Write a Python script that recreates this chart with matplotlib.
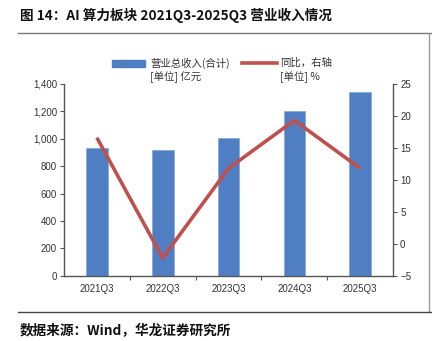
import matplotlib
matplotlib.use("Agg")
import matplotlib.pyplot as plt
from matplotlib.lines import Line2D
from matplotlib.patches import Rectangle
from matplotlib.ticker import FuncFormatter, FixedLocator
import numpy as np

plt.rcParams['font.family'] = ['Liberation Sans', 'Noto Sans CJK SC', 'DejaVu Sans']

quarters = ['2021Q3', '2022Q3', '2023Q3', '2024Q3', '2025Q3']
revenue = [930, 915, 1005, 1200, 1340]      # 亿元
yoy = [16.6, -2.2, 11.8, 19.3, 11.8]        # %

bar_color = '#4F7EC2'
line_color = '#C0504D'
axis_color = '#555555'
cjk = ['Noto Sans CJK SC', 'DejaVu Sans']

fig = plt.figure(figsize=(4.32, 3.41), dpi=100)
ax = fig.add_axes([0.148, 0.191, 0.762, 0.563])
ax2 = ax.twinx()

x = np.arange(len(quarters))
ax.bar(x, revenue, width=0.33, color=bar_color, edgecolor='#7FA6DA', linewidth=0.5, zorder=2)
ax2.plot(x, yoy, color=line_color, linewidth=2.6, solid_capstyle='butt', zorder=3)

ax.set_xlim(-0.5, len(quarters) - 0.5)
ax.set_ylim(0, 1400)
ax.set_yticks(np.arange(0, 1401, 200))
ax.yaxis.set_major_formatter(FuncFormatter(lambda v, p: f'{int(v):,}'))
ax2.set_ylim(-5, 25)
ax2.set_yticks(np.arange(-5, 26, 5))

ax.set_xticks(x)
ax.set_xticklabels(quarters)
ax.xaxis.set_minor_locator(FixedLocator(np.arange(0.5, len(quarters) - 0.5, 1)))
ax.tick_params(axis='x', which='major', length=0, pad=6, labelsize=7, labelcolor='#333333')
ax.tick_params(axis='x', which='minor', length=3, width=0.8, color=axis_color, direction='out')
ax.tick_params(axis='y', length=3, width=0.8, color=axis_color, labelsize=7, labelcolor='#333333', pad=2)
ax2.tick_params(axis='y', length=3, width=0.8, color=axis_color, labelsize=7, labelcolor='#333333', pad=2)

for a in (ax, ax2):
    a.spines['top'].set_visible(False)
    for s in ('left', 'right', 'bottom'):
        a.spines[s].set_color(axis_color)
        a.spines[s].set_linewidth(1.0)
ax.spines['right'].set_visible(False)
ax2.spines['left'].set_visible(False)
ax2.spines['bottom'].set_visible(False)

# legend (manual layout to mimic two-line labels)
fig.add_artist(Rectangle((112 / 432, 1 - 67 / 341), 33 / 432, 7 / 341,
                         transform=fig.transFigure, color=bar_color))
fig.text(150 / 432, 1 - 63 / 341, '营业总收入(合计)', family=cjk, fontsize=7.5,
         color='#333333', va='center')
fig.text(150 / 432, 1 - 77 / 341, '[单位] 亿元', family=cjk, fontsize=7.5,
         color='#333333', va='center')
fig.add_artist(Line2D([242 / 432, 277 / 432], [1 - 63 / 341, 1 - 63 / 341],
                      transform=fig.transFigure, color=line_color, linewidth=2.6))
fig.text(280 / 432, 1 - 63 / 341, '同比，右轴', family=cjk, fontsize=7.5,
         color='#333333', va='center')
fig.text(280 / 432, 1 - 77 / 341, '[单位] %', family=cjk, fontsize=7.5,
         color='#333333', va='center')

# title, frame lines and source
fig.text(20 / 432, 1 - 15 / 341, '图 14：AI 算力板块 2021Q3-2025Q3 营业收入情况',
         family=cjk, fontsize=9.8, fontweight='bold', va='center', color='#111111')
fig.add_artist(Line2D([18 / 432, 1.0], [1 - 33 / 341, 1 - 33 / 341],
                      transform=fig.transFigure, color='#777777', linewidth=1.0))
fig.add_artist(Line2D([429 / 432, 429 / 432], [1 - 33 / 341, 1 - 312 / 341],
                      transform=fig.transFigure, color='#999999', linewidth=1.0))
fig.add_artist(Line2D([18 / 432, 1.0], [1 - 312 / 341, 1 - 312 / 341],
                      transform=fig.transFigure, color='#444444', linewidth=1.0))
fig.text(20 / 432, 1 - 331 / 341, '数据来源：Wind，华龙证券研究所',
         family=cjk, fontsize=9.8, fontweight='bold', va='center', color='#111111')

fig.savefig('out.png', dpi=100)
